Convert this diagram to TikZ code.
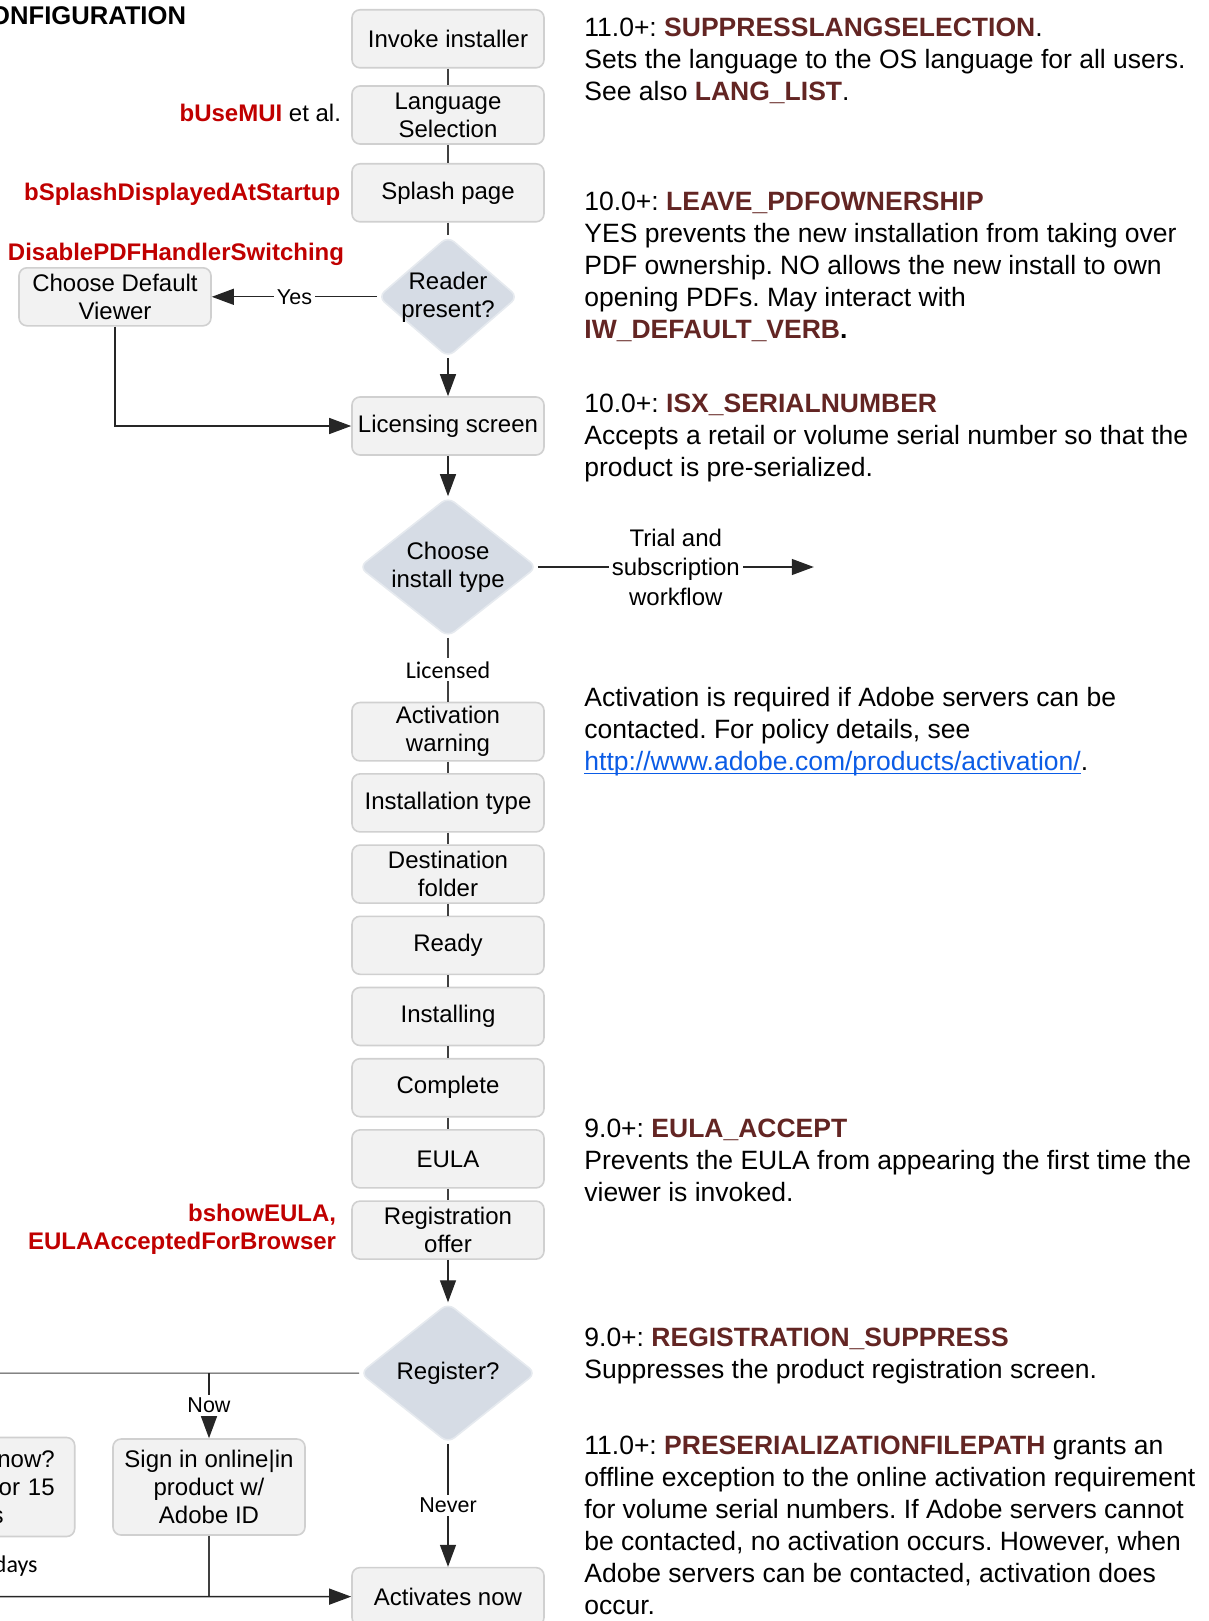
\documentclass[tikz,border=0pt]{standalone}
\usepackage{fontspec}
\setmainfont{Liberation Sans}
\newfontfamily\calfont{Carlito}
\usepackage{tikz}
\usetikzlibrary{arrows.meta,positioning,shapes.geometric}
\frenchspacing
\definecolor{boxfill}{HTML}{F2F2F2}
\definecolor{boxline}{HTML}{D0D0D0}
\definecolor{choicefill}{HTML}{D6DCE5}
\definecolor{proprd}{HTML}{C00000}
\definecolor{keyrd}{HTML}{632523}
\definecolor{linkbl}{HTML}{0B5CE6}
\newcommand{\Key}[1]{\textcolor{keyrd}{\textbf{#1}}}
\newcommand{\Prop}[1]{\textcolor{proprd}{\textbf{#1}}}
\newcommand{\Link}[1]{\textcolor{linkbl}{\setbox0\hbox{#1}\rlap{\rule[-1.6pt]{\wd0}{0.6pt}}\box0}}
\newcommand{\BoxFont}{\fontsize{12pt}{14pt}\selectfont}
\newcommand{\NoteFont}{\fontsize{13.25pt}{16pt}\selectfont}

\begin{document}
\begin{tikzpicture}[x=0.5pt,y=-0.5pt]
\tikzstyle{screen}=[rounded corners=4pt, draw=boxline, fill=boxfill, line width=0.8pt, minimum width=96pt, minimum height=29pt, inner sep=2pt, align=center, font=\BoxFont]
\tikzstyle{choice}=[shape=diamond, rounded corners=4pt, draw=choicefill!60!white, fill=choicefill, line width=0.8pt, inner xsep=-3pt, inner ysep=0pt, align=center, font=\BoxFont]
\tikzstyle{prop}=[inner sep=0pt, font=\BoxFont]
\tikzstyle{note}=[inner sep=0pt, anchor=north west, align=left, font=\NoteFont]
\tikzstyle{wire}=[draw=black!75, line width=0.6pt]
\tikzstyle{arrowed}=[draw=black!85, line width=0.65pt, -{Triangle[length=11pt,width=8pt]}]
\tikzstyle{onedge}=[fill=white, inner sep=1.5pt, font=\fontsize{10.75pt}{13pt}\selectfont]
\useasboundingbox (0,0) rectangle (1209,1621);
\clip (0,0) rectangle (1209,1621);

\draw node at (448,38.8) [screen] (invoke) {Invoke installer};
\draw node [screen, below of=invoke, node distance=38.1pt] (lang) {Language\\Selection};
\draw node [screen, below of=lang, node distance=38.9pt] (splash) {Splash page};
\draw node [choice, aspect=1.15, minimum width=70pt, minimum height=60pt, below of=splash, node distance=52pt] (reader) {Reader\\present?};
\draw node [screen, below of=reader, node distance=64.6pt] (licensing) {Licensing screen};
\draw node [choice, aspect=1.27, minimum width=89pt, minimum height=70pt, below of=licensing, node distance=70.5pt] (choose) {Choose\\install type};
\draw node [screen, below of=choose, node distance=82.35pt] (actwarn) {Activation\\warning};
\draw node [screen, below of=actwarn, node distance=35.6pt] (insttype) {Installation type};
\draw node [screen, below of=insttype, node distance=35.6pt] (destfolder) {Destination\\folder};
\draw node [screen, below of=destfolder, node distance=35.6pt] (ready) {Ready};
\draw node [screen, below of=ready, node distance=35.6pt] (installing) {Installing};
\draw node [screen, below of=installing, node distance=35.6pt] (complete) {Complete};
\draw node [screen, below of=complete, node distance=35.6pt] (eula) {EULA};
\draw node [screen, below of=eula, node distance=35.6pt] (regoffer) {Registration\\offer};
\draw node [choice, aspect=1.26, minimum width=88pt, minimum height=70pt, below of=regoffer, node distance=71.5pt] (register) {Register?};
\draw node [screen, below of=register, node distance=111.75pt] (activates) {Activates now};

\draw node [screen, left of=reader, node distance=166.5pt] (viewer) {Choose Default\\Viewer};
\draw node at (209,1487) [screen, minimum height=48pt] (signin) {Sign in online|in\\product w/\\Adobe ID};
\draw node [screen, left of=signin, node distance=115.15pt, minimum height=49.5pt, text width=76pt, align=right] (remind) {now?\\for 15\\s\rule{25.5pt}{0pt}};

\draw node at (186.4,24.2) [prop, anchor=base east, font=\bfseries\fontsize{12.8pt}{15pt}\selectfont] (cfgtitle) {ONFIGURATION};
\draw node at (341.4,121.9) [prop, anchor=base east] (muiprop) {\Prop{bUseMUI} et al.};
\draw node at (340.6,200.3) [prop, anchor=base east] (splashprop) {\Prop{bSplashDisplayedAtStartup}};
\draw node at (344.4,260.3) [prop, anchor=base east] (pdfprop) {\Prop{DisablePDFHandlerSwitching}};
\draw node at (336.5,1229.5) [prop, anchor=east, align=right] (eulaprop) {\Prop{bshowEULA,}\\\Prop{EULAAcceptedForBrowser}};
\draw node at (38,1572) [prop, anchor=base east, font=\calfont\fontsize{12pt}{14pt}\selectfont] (dayslbl) {days};

\draw node at (584,17.2) [note] (langnote) {11.0+: \Key{SUPPRESSLANGSELECTION}.\\Sets the language to the OS language for all users.\\See also \Key{LANG\_LIST}.};
\draw node at (584,191.8) [note] (ownernote) {10.0+: \Key{LEAVE\_PDFOWNERSHIP}\\YES prevents the new installation from taking over\\PDF ownership. NO allows the new install to own\\opening PDFs. May interact with\\\Key{IW\_DEFAULT\_VERB}\textbf{.}};
\draw node at (584,393.8) [note] (serialnote) {10.0+: \Key{ISX\_SERIALNUMBER}\\Accepts a retail or volume serial number so that the\\product is pre-serialized.};
\draw node at (584,687.2) [note] (activnote) {Activation is required if Adobe servers can be\\contacted. For policy details, see\\\Link{http://www.adobe.com/products/activation/}.};
\draw node at (584,1118.8) [note] (eulanote) {9.0+: \Key{EULA\_ACCEPT}\\Prevents the EULA from appearing the first time the\\viewer is invoked.};
\draw node at (584,1327.2) [note] (regnote) {9.0+: \Key{REGISTRATION\_SUPPRESS}\\Suppresses the product registration screen.};
\draw node at (584,1435.5) [note] (preserialnote) {11.0+: \Key{PRESERIALIZATIONFILEPATH} grants an\\offline exception to the online activation requirement\\for volume serial numbers. If Adobe servers cannot\\be contacted, no activation occurs. However, when\\Adobe servers can be contacted, activation does\\occur.};

\coordinate (trialend) at (813.8,567);
\coordinate (offleft) at (-30,1373.1);
\coordinate (offbottom) at (-30,1596.6);

\draw [wire] (invoke) -- (lang);
\draw [wire] (lang) -- (splash);
\draw [wire] (splash) -- (reader);
\draw [arrowed] (reader) -- (licensing);
\draw [arrowed] (reader) -- node[onedge]{Yes} (viewer);
\draw [arrowed] (viewer) |- (licensing);
\draw [arrowed] (licensing) -- (choose);
\draw [arrowed] (choose) -- node[onedge, align=center, font=\fontsize{12pt}{14.75pt}\selectfont]{Trial and\\subscription\\workflow} (trialend);
\draw [wire] (choose) -- node[onedge, font=\calfont\fontsize{12pt}{14pt}\selectfont]{Licensed} (actwarn);
\draw [wire] (actwarn) -- (insttype);
\draw [wire] (insttype) -- (destfolder);
\draw [wire] (destfolder) -- (ready);
\draw [wire] (ready) -- (installing);
\draw [wire] (installing) -- (complete);
\draw [wire] (complete) -- (eula);
\draw [wire] (eula) -- (regoffer);
\draw [arrowed] (regoffer) -- (register);
\draw [arrowed] (register) -- node[onedge]{Never} (activates);
\draw [wire] (register) -- (offleft);
\draw [arrowed] (register -| signin) -- node[onedge]{Now} (signin);
\draw [wire] (signin) -- (signin |- activates);
\draw [arrowed] (offbottom) -- (activates);
\end{tikzpicture}
\end{document}
